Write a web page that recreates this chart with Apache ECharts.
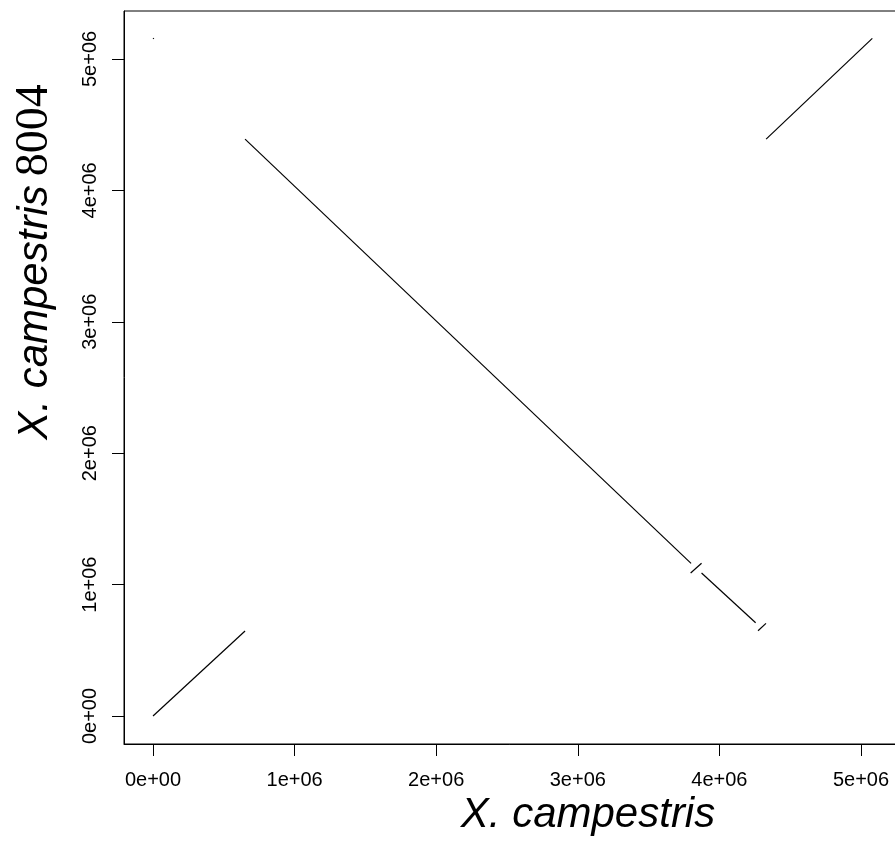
<!DOCTYPE html>
<html>
<head>
<meta charset="utf-8">
<script src="https://cdn.jsdelivr.net/npm/echarts@6/dist/echarts.min.js"></script>
<style>
  html, body { margin: 0; padding: 0; background: #fff; }
  #chart { width: 895px; height: 842px; }
</style>
</head>
<body>
<div id="chart"></div>
<script>
// matched segments: start (x1, y1) -> end (x2, y2), genome positions in bp
const segX1 = [0, 650000, 3797000, 3874000, 4273000, 4330000, 0]
const segY1 = [0, 4390000, 1088000, 1088000, 649000, 4390000, 5153000]
const segX2 = [650000, 3800000, 3874000, 4256000, 4329000, 5080000, 6000]
const segY2 = [647000, 1162000, 1162000, 710000, 705000, 5157000, 5159000]

const tickValues = [0, 1000000, 2000000, 3000000, 4000000, 5000000]
const tickLabels = ['0e+00', '1e+06', '2e+06', '3e+06', '4e+06', '5e+06']

const xTitle = 'X. campestris'
const yTitleItalic = 'X. campestris'
const yTitleNum = '8004'

const chart = echarts.init(document.getElementById('chart'))

const labelFmt = (v) => {
  const i = tickValues.indexOf(v)
  return i >= 0 ? tickLabels[i] : ''
}

const series = segX1.map((x1, i) => ({
  type: 'line',
  data: [[x1, segY1[i]], [segX2[i], segY2[i]]],
  showSymbol: false,
  symbol: 'none',
  silent: true,
  animation: false,
  lineStyle: { color: '#000', width: 1.2 },
}))

const axisCommon = {
  type: 'value',
  axisLine: { show: true, onZero: false, lineStyle: { color: '#000', width: 1 } },
  axisTick: { show: true, inside: false, length: 12, lineStyle: { color: '#000', width: 1 }, customValues: tickValues },
  splitLine: { show: false },
}

chart.setOption({
  animation: false,
  backgroundColor: '#fff',
  grid: {
    left: 124, top: 11, width: 783, height: 733,
    outerBounds: { left: 0, top: 0, right: -30, bottom: 0 },
    show: true, borderColor: '#000', borderWidth: 1, backgroundColor: 'transparent',
  },
  xAxis: {
    ...axisCommon,
    min: -205000,
    max: 5325000,
    axisLabel: {
      customValues: tickValues,
      formatter: labelFmt,
      margin: 26,
      color: '#000',
      fontFamily: 'Liberation Sans',
      fontSize: 20,
    },
  },
  yAxis: {
    ...axisCommon,
    min: -213000,
    max: 5365000,
    axisLabel: {
      customValues: tickValues,
      formatter: labelFmt,
      rotate: 90,
      margin: 24,
      color: '#000',
      fontFamily: 'Liberation Sans',
      fontSize: 20,
    },
  },
  graphic: [
    {
      type: 'text',
      x: 588, y: 815,
      style: {
        text: xTitle,
        font: 'italic 42px "Liberation Sans"',
        fill: '#000',
        align: 'center',
        verticalAlign: 'middle',
      },
    },
    {
      type: 'text',
      x: 35, y: 262,
      rotation: Math.PI / 2,
      style: {
        text: '{a|' + yTitleItalic + '}{s| }{b|' + yTitleNum + '}',
        fill: '#000',
        align: 'center',
        verticalAlign: 'middle',
        rich: {
          a: { font: 'italic 42px "Liberation Sans"', fill: '#000' },
          s: { font: '42px "Liberation Sans"', width: 9 },
          b: { font: '46px "Liberation Serif"', fill: '#000' },
        },
      },
    },
  ],
  series: series,
})
</script>
</body>
</html>
